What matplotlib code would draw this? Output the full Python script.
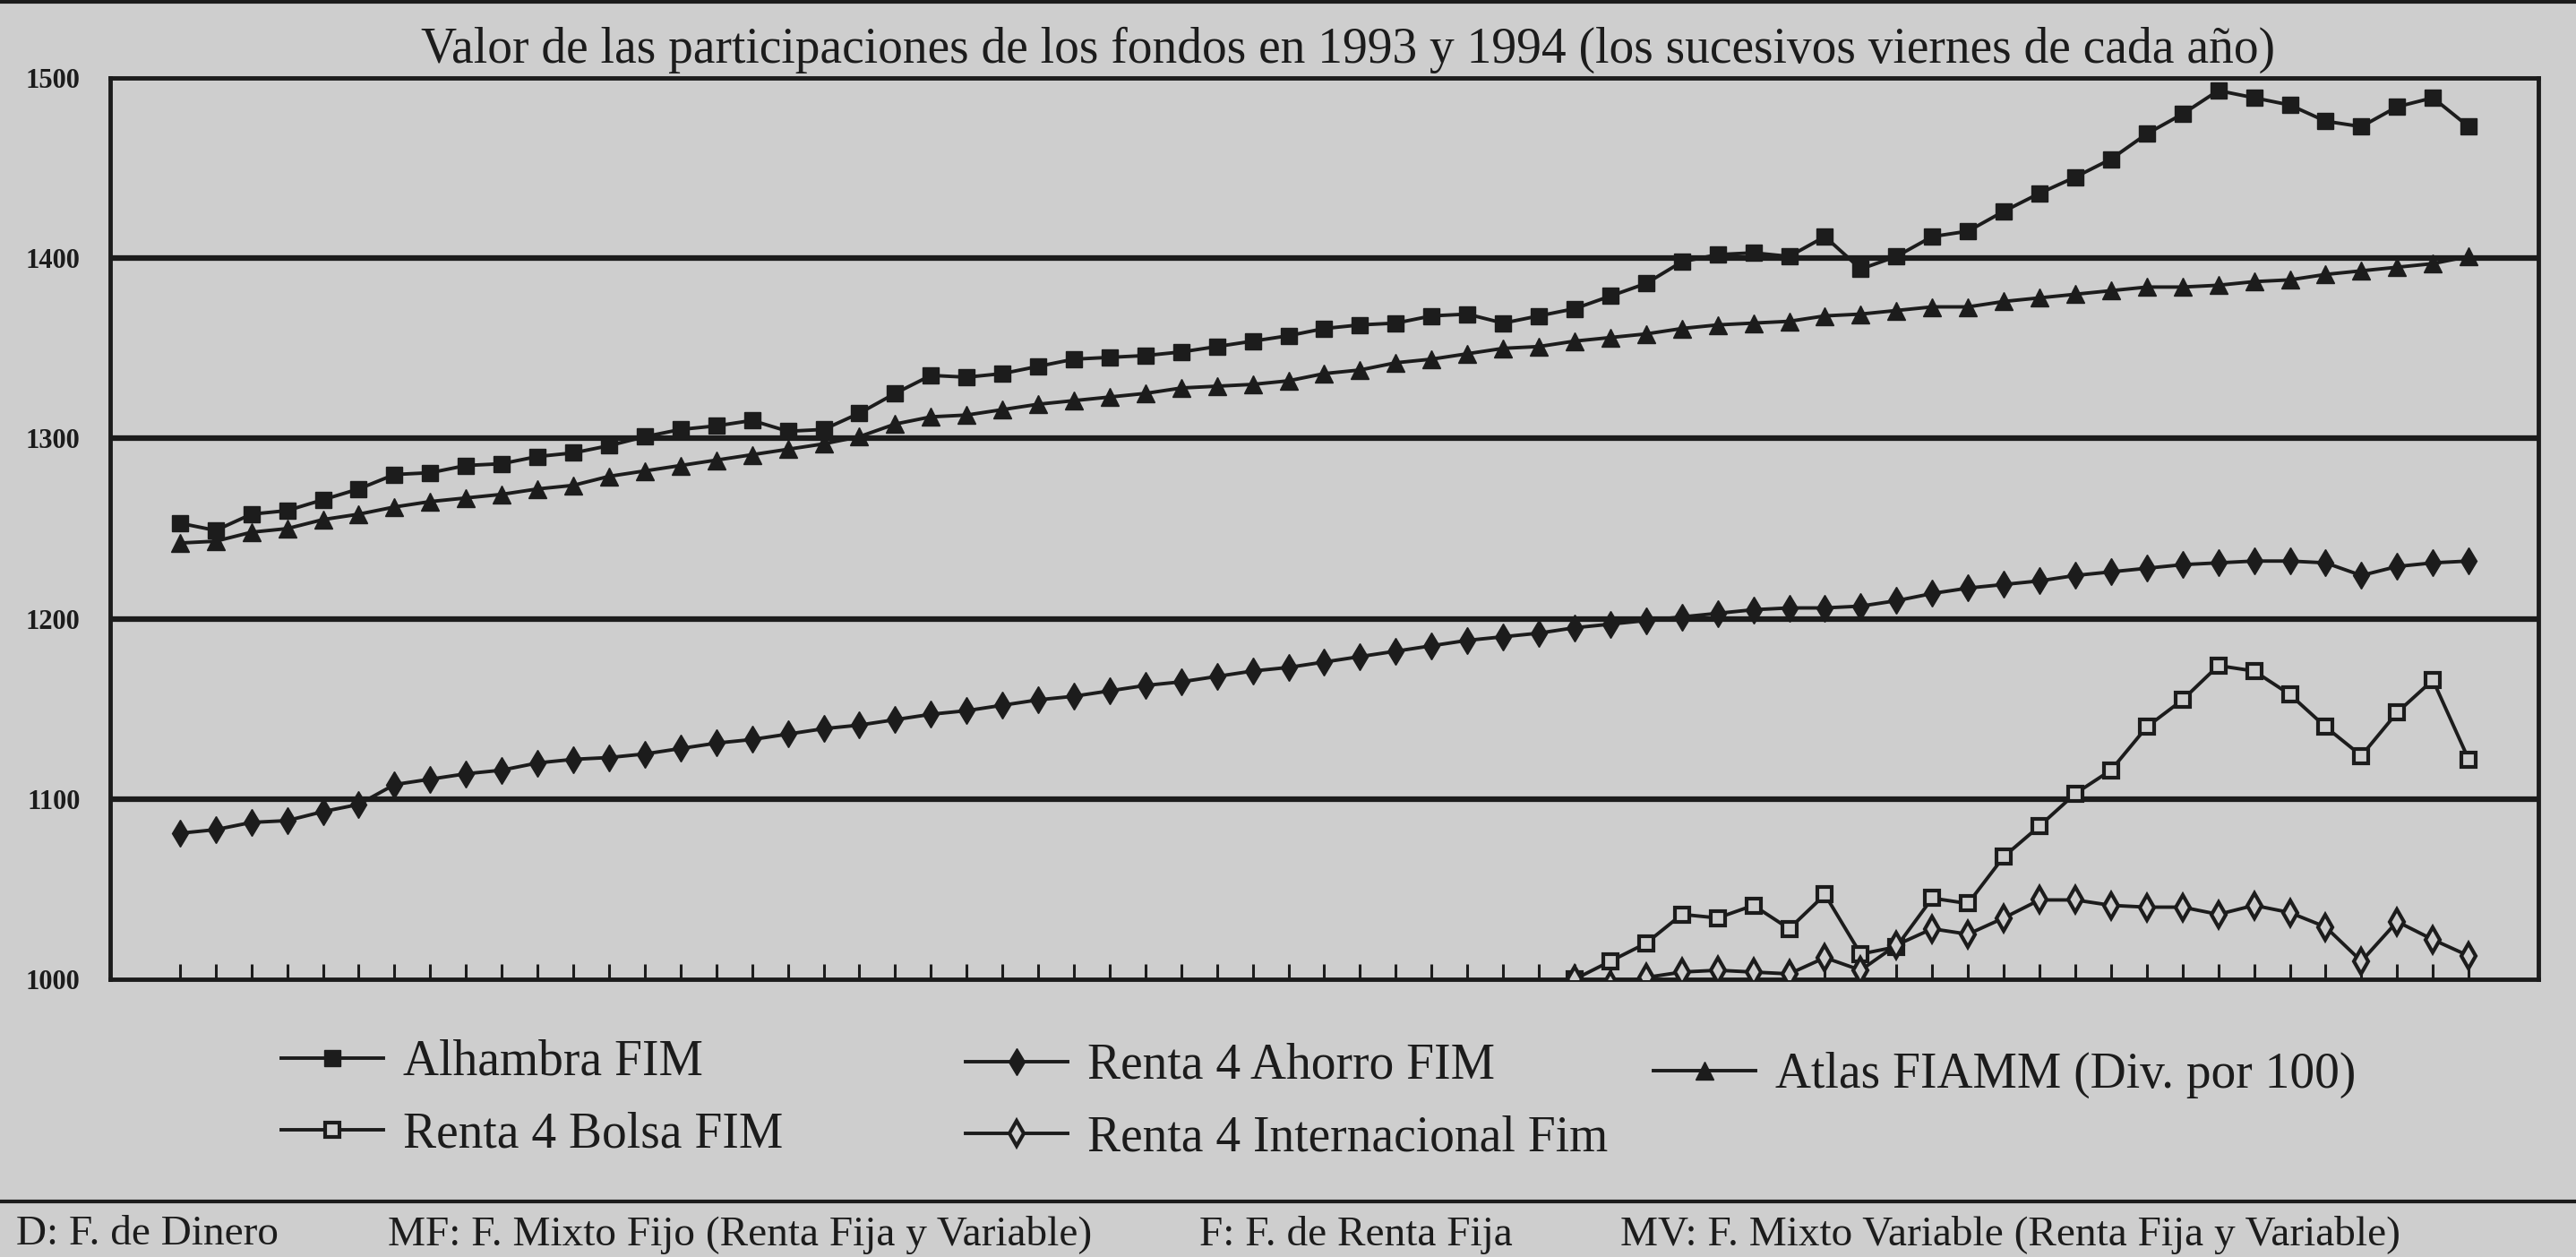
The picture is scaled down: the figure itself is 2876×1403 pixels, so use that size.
"""
Valor de las participaciones de los fondos en 1993 y 1994.
Recreation of a scanned newspaper line chart (weekly Friday values).
"""
import numpy as np
import matplotlib.pyplot as plt
from matplotlib.lines import Line2D

PAPER = '#cecece'
INK = '#1c1c1c'
FONT = 'Liberation Serif'

# 65 sucesivos viernes
weeks = np.arange(65)

alhambra = [1253, 1249, 1258, 1260, 1266, 1272, 1280, 1281, 1285, 1286,
            1290, 1292, 1296, 1301, 1305, 1307, 1310, 1304, 1305, 1314,
            1325, 1335, 1334, 1336, 1340, 1344, 1345, 1346, 1348, 1351,
            1354, 1357, 1361, 1363, 1364, 1368, 1369, 1364, 1368, 1372,
            1379, 1386, 1398, 1402, 1403, 1401, 1412, 1394, 1401, 1412,
            1415, 1426, 1436, 1445, 1455, 1469, 1480, 1493, 1489, 1485,
            1476, 1473, 1484, 1489, 1473]

atlas = [1242, 1243, 1248, 1250, 1255, 1258, 1262, 1265, 1267, 1269,
         1272, 1274, 1279, 1282, 1285, 1288, 1291, 1294, 1297, 1301,
         1308, 1312, 1313, 1316, 1319, 1321, 1323, 1325, 1328, 1329,
         1330, 1332, 1336, 1338, 1342, 1344, 1347, 1350, 1351, 1354,
         1356, 1358, 1361, 1363, 1364, 1365, 1368, 1369, 1371, 1373,
         1373, 1376, 1378, 1380, 1382, 1384, 1384, 1385, 1387, 1388,
         1391, 1393, 1395, 1397, 1401]

ahorro = [1081, 1083, 1087, 1088, 1093, 1097, 1108, 1111, 1114, 1116,
          1120, 1122, 1123, 1125, 1128, 1131, 1133, 1136, 1139, 1141,
          1144, 1147, 1149, 1152, 1155, 1157, 1160, 1163, 1165, 1168,
          1171, 1173, 1176, 1179, 1182, 1185, 1188, 1190, 1192, 1195,
          1197, 1199, 1201, 1203, 1205, 1206, 1206, 1207, 1210, 1214,
          1217, 1219, 1221, 1224, 1226, 1228, 1230, 1231, 1232, 1232,
          1231, 1224, 1229, 1231, 1232]

# Bolsa e Internacional empiezan en la semana 39
bolsa = [np.nan] * 39 + [
    1000, 1010, 1020, 1036, 1034, 1041, 1028, 1047, 1014, 1018,
    1045, 1042, 1068, 1085, 1103, 1116, 1140, 1155, 1174, 1171,
    1158, 1140, 1124, 1148, 1166, 1122]

internacional = [np.nan] * 39 + [
    1000, 997, 1001, 1004, 1005, 1004, 1003, 1012, 1005, 1019,
    1028, 1025, 1034, 1044, 1044, 1041, 1040, 1040, 1036, 1041,
    1037, 1029, 1010, 1032, 1022, 1013]

yticks = [1000, 1100, 1200, 1300, 1400, 1500]
ytick_labels = ['1000', '1100', '1200', '1300', '1400', '1500']

title = ('Valor de las participaciones de los fondos en 1993 y 1994 '
         '(los sucesivos viernes de cada año)')
footnotes = [
    (18, 'D: F. de Dinero'),
    (433, 'MF: F. Mixto Fijo (Renta Fija y Variable)'),
    (1339, 'F: F. de Renta Fija'),
    (1809, 'MV: F. Mixto Variable (Renta Fija y Variable)'),
]

W, H = 2876, 1403
fig = plt.figure(figsize=(W / 100, H / 100), dpi=100, facecolor=PAPER)
ax = fig.add_axes([123 / W, 1 - 1093 / H, (2834 - 123) / W, (1093 - 87) / H])
ax.set_facecolor(PAPER)
ax.set_xlim(-1.95, 65.95)
ax.set_ylim(1000, 1500)

for y in yticks[1:-1]:
    ax.axhline(y, color=INK, lw=4.5, zorder=1)
for s in ax.spines.values():
    s.set_color(INK)
    s.set_linewidth(3.5)

ax.set_xticks(weeks)
ax.tick_params(axis='x', direction='in', length=12, width=2.2, color=INK,
               labelbottom=False)
ax.set_yticks(yticks)
ax.set_yticklabels(ytick_labels, fontsize=22, fontweight='bold', family=FONT,
                   color=INK)
ax.tick_params(axis='y', length=0, pad=24)

common = dict(color=INK, lw=2.8, zorder=3)
l_alh, = ax.plot(weeks, alhambra, marker='s', ms=13, mfc=INK, mec=INK,
                 label='Alhambra FIM', **common)
l_bol, = ax.plot(weeks, bolsa, marker='s', ms=12, mfc=PAPER, mec=INK, mew=3,
                 label='Renta 4 Bolsa FIM', **common)
l_aho, = ax.plot(weeks, ahorro, marker='d', ms=15, mfc=INK, mec=INK,
                 label='Renta 4 Ahorro FIM', **common)
l_int, = ax.plot(weeks, internacional, marker='d', ms=14, mfc=PAPER, mec=INK,
                 mew=3, label='Renta 4 Internacional Fim', **common)
l_atl, = ax.plot(weeks, atlas, marker='^', ms=14, mfc=INK, mec=INK,
                 label='Atlas FIAMM (Div. por 100)', **common)

leg_kw = dict(frameon=False, loc='upper left', borderpad=0, borderaxespad=0,
              handlelength=2.05, handletextpad=0.4, labelspacing=0.52,
              numpoints=1, prop={'family': FONT, 'size': 40},
              labelcolor=INK)
fig.legend(handles=[l_alh, l_bol], bbox_to_anchor=(314 / W, 1 - 1160 / H), **leg_kw)
fig.legend(handles=[l_aho, l_int], bbox_to_anchor=(1078 / W, 1 - 1164 / H), **leg_kw)
fig.legend(handles=[l_atl], bbox_to_anchor=(1846 / W, 1 - 1174 / H), **leg_kw)

fig.text(1505 / W, 1 - 70 / H, title, ha='center', va='baseline',
         fontsize=40, family=FONT, color=INK)

# rules of the newspaper table
fig.add_artist(Line2D([0, 1], [1 - 2 / H, 1 - 2 / H], transform=fig.transFigure,
                      color=INK, lw=3))
fig.add_artist(Line2D([0, 1], [1 - 1341 / H, 1 - 1341 / H],
                      transform=fig.transFigure, color=INK, lw=3))
for x, txt in footnotes:
    fig.text(x / W, 1 - 1378 / H, txt, ha='left', va='center', fontsize=34,
             family=FONT, color=INK)

fig.savefig('out.png', dpi=100, facecolor=PAPER)
